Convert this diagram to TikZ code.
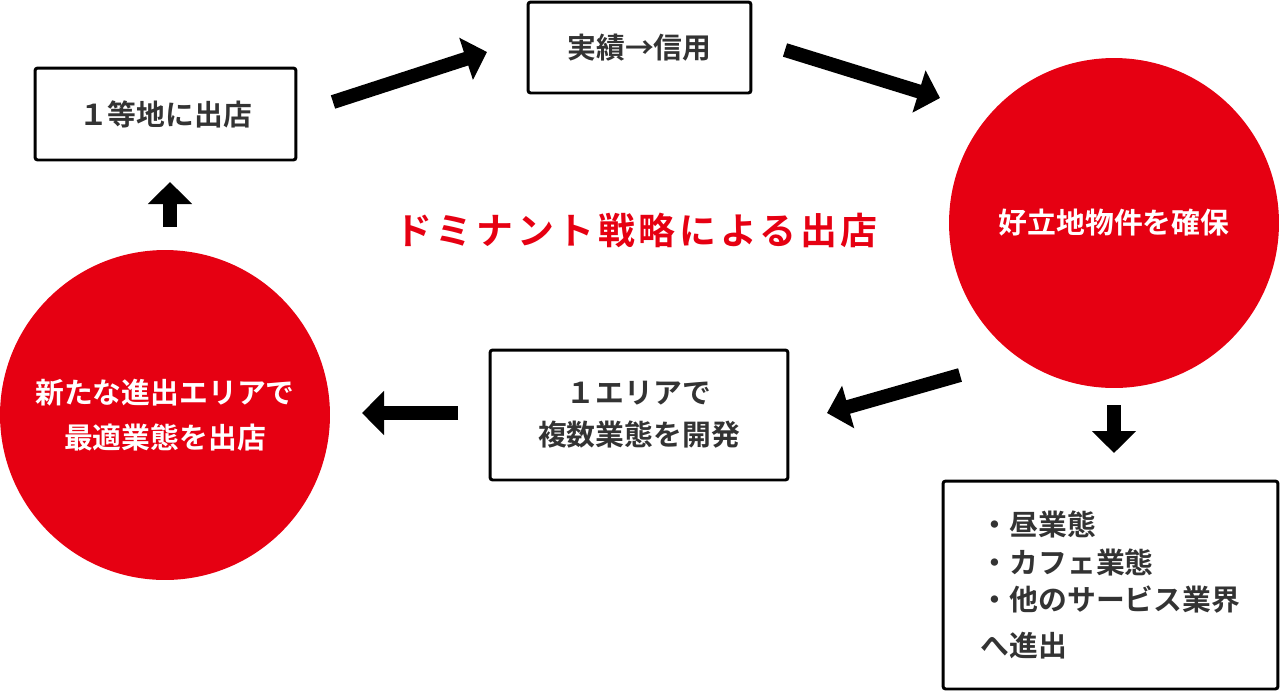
\documentclass[tikz,border=0pt]{standalone}
\usepackage{fontspec}
\setmainfont{Noto Sans CJK JP}[UprightFont=* Bold]
\newfontfamily\titlefont{Noto Sans CJK JP}[UprightFont=* Bold, LetterSpace=10]
\usetikzlibrary{arrows.meta}
\definecolor{dmred}{HTML}{E60012}
\definecolor{dmtext}{HTML}{333333}

\begin{document}
\begin{tikzpicture}[x=0.02cm,y=-0.02cm]
    \useasboundingbox (0,0) rectangle (1280,691);

    \tikzset{dmbox/.style={draw=black,line width=1.7pt,rounded corners=1.5pt,fill=white,
        text=dmtext,align=center,font=\fontsize{16.4}{23.8}\selectfont}}
    \tikzset{dmcircle/.style={circle,fill=dmred,minimum size=6.6cm,inner sep=0pt,
        text=white,align=center,font=\fontsize{16.4}{25.5}\selectfont}}
    \tikzset{dmarrow/.style={line width=0.28cm,-{Triangle[length=0.44cm,width=0.86cm]}}}

    \node[dmbox,minimum width=5.22cm,minimum height=1.84cm] (prime) at (165.5,114) {１等地に出店};
    \node[dmbox,minimum width=4.46cm,minimum height=1.82cm] (trust) at (639.5,47.5) {実績→信用};
    \node[dmcircle] (site) at (1114,223) {好立地物件を確保};
    \node[dmbox,minimum width=5.96cm,minimum height=2.6cm] (multi) at (639,415) {１エリアで\\複数業態を開発};
    \node[dmcircle] (newarea) at (165,415) {新たな進出エリアで\\最適業態を出店};
    \node[dmbox,minimum width=6.7cm,minimum height=4.16cm,align=left,
        font=\fontsize{16.4}{21.5}\selectfont] (expand) at (1110.5,585)
        {・昼業態\\・カフェ業態\\・他のサービス業界\\[4.5pt]へ進出};

    \node[text=dmred,font=\titlefont\fontsize{21}{25}\selectfont] (title) at (636.5,230) {ドミナント戦略による出店};

    \coordinate (a1s) at (333,102);  \coordinate (a1e) at (487,52);
    \coordinate (a2s) at (785,50);   \coordinate (a2e) at (940,98);
    \coordinate (a3s) at (960,375);  \coordinate (a3e) at (827,413);
    \coordinate (a4s) at (458,413);  \coordinate (a4e) at (362,413);
    \coordinate (a5s) at (1114,405); \coordinate (a5e) at (1114,453);
    \coordinate (a6s) at (170,227);  \coordinate (a6e) at (170,182);

    \draw[dmarrow] (a1s) -- (a1e);
    \draw[dmarrow] (a2s) -- (a2e);
    \draw[dmarrow] (a3s) -- (a3e);
    \draw[dmarrow] (a4s) -- (a4e);
    \draw[dmarrow] (a5s) -- (a5e);
    \draw[dmarrow] (a6s) -- (a6e);
\end{tikzpicture}
\end{document}
